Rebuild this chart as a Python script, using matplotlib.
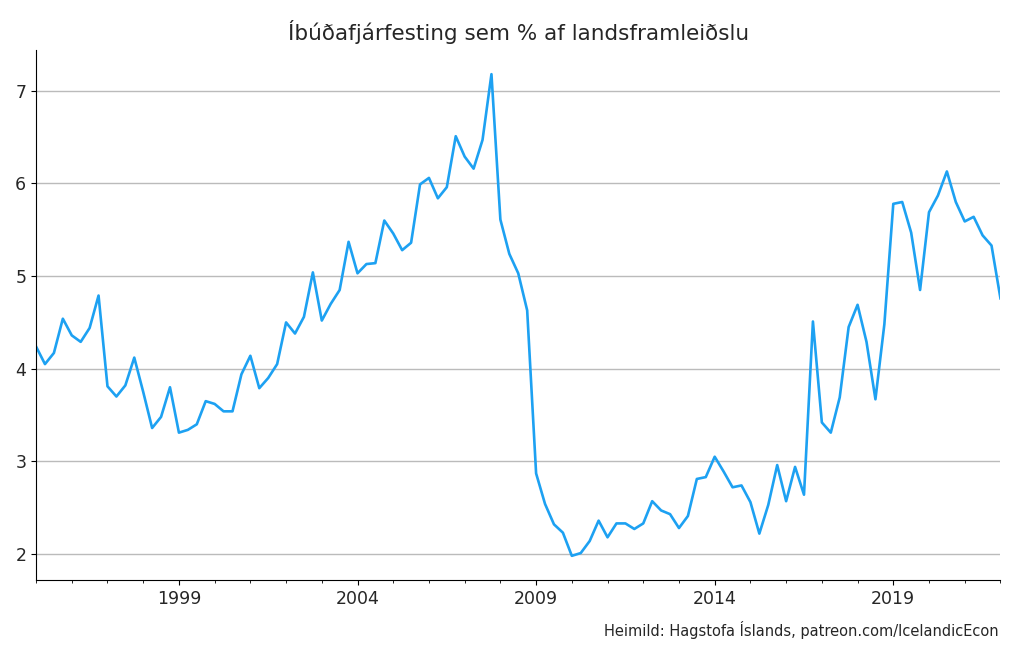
import matplotlib
matplotlib.use("Agg")
import matplotlib.pyplot as plt
from matplotlib.ticker import MultipleLocator, FixedLocator
import numpy as np

# quarterly, 1995Q1 - 2022Q1
start_year = 1995
investment_share = [
    4.24, 4.05, 4.17, 4.54, 4.36, 4.29, 4.44, 4.79,
    3.81, 3.70, 3.82, 4.12, 3.75, 3.36, 3.48, 3.80,
    3.31, 3.34, 3.40, 3.65, 3.62, 3.54, 3.54, 3.94,
    4.14, 3.79, 3.90, 4.05, 4.50, 4.38, 4.56, 5.04,
    4.52, 4.70, 4.85, 5.37, 5.03, 5.13, 5.14, 5.60,
    5.46, 5.28, 5.36, 5.99, 6.06, 5.84, 5.96, 6.51,
    6.29, 6.16, 6.47, 7.18, 5.61, 5.24, 5.03, 4.63,
    2.87, 2.54, 2.32, 2.23, 1.98, 2.01, 2.14, 2.36,
    2.18, 2.33, 2.33, 2.27, 2.33, 2.57, 2.47, 2.43,
    2.28, 2.41, 2.81, 2.83, 3.05, 2.89, 2.72, 2.74,
    2.56, 2.22, 2.53, 2.96, 2.57, 2.94, 2.64, 4.51,
    3.42, 3.31, 3.69, 4.45, 4.69, 4.29, 3.67, 4.48,
    5.78, 5.80, 5.47, 4.85, 5.69, 5.87, 6.13, 5.80,
    5.59, 5.64, 5.44, 5.33, 4.76,
]
major_years = [1999, 2004, 2009, 2014, 2019]

x = start_year + np.arange(len(investment_share)) / 4

fig = plt.figure(figsize=(10.24, 6.59), dpi=100)
ax = fig.add_axes([0.0352, 0.12, 0.9418, 0.804])

ax.plot(x, investment_share, color="#1da1f2", linewidth=1.9)
ax.set_xlim(x[0], x[-1])

ax.xaxis.set_major_locator(FixedLocator(major_years))
ax.xaxis.set_minor_locator(MultipleLocator(1))
ax.set_xticklabels([str(y) for y in major_years])
ax.set_yticks([2, 3, 4, 5, 6, 7])

ax.grid(axis="y", color="#bbbbbb", linewidth=1)
ax.set_axisbelow(True)
ax.spines["top"].set_visible(False)
ax.spines["right"].set_visible(False)
ax.tick_params(labelsize=12.5, labelcolor="#262626")

ax.set_title("Íbúðafjárfesting sem % af landsframleiðslu", fontsize=15.5,
             pad=7, color="#262626")
fig.text(0.975, 0.03, "Heimild: Hagstofa Íslands, patreon.com/IcelandicEcon",
         ha="right", va="bottom", fontsize=10.5, color="#262626")

fig.savefig("out.png", dpi=100)
